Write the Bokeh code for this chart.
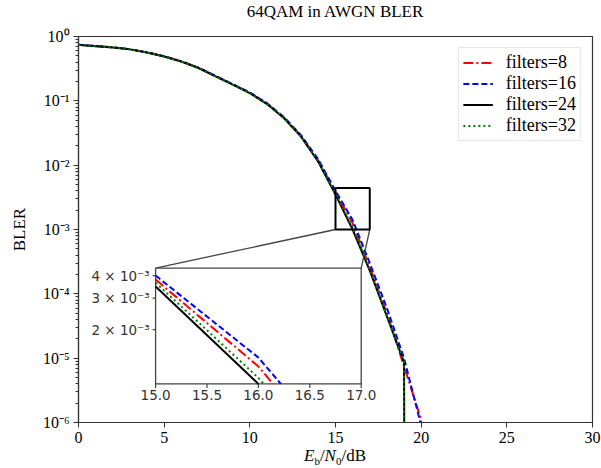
import math
from bokeh.plotting import figure
from bokeh.layouts import column
from bokeh.models import Range1d, LogScale, FixedTicker, CustomJSTickFormatter, Div
from bokeh.core.properties import value
from bokeh.embed import file_html
from bokeh.resources import INLINE

# ---------------- data ----------------
snr_db = [0, 1, 2, 3, 4, 5, 6, 7, 8, 9, 10, 11, 12, 13, 14, 15, 16, 17, 18, 19, 20, 21]
bler_filters8 = [0.745, 0.712, 0.680, 0.635, 0.566, 0.494, 0.411, 0.328, 0.243, 0.181, 0.134,
                 0.0905, 0.0545, 0.0282, 0.0118, 3.8e-3, 1.25e-3, 2.6e-4, 5.0e-5, 7.5e-6, 1.1e-6, 0.0]
bler_filters16 = [0.745, 0.712, 0.680, 0.635, 0.566, 0.494, 0.411, 0.328, 0.244, 0.182, 0.135,
                  0.092, 0.0556, 0.029, 0.0122, 4.0e-3, 1.4e-3, 3.0e-4, 6.0e-5, 1.0e-5, 9.0e-7, 0.0]
bler_filters24 = [0.741, 0.708, 0.676, 0.631, 0.562, 0.490, 0.407, 0.324, 0.240, 0.178, 0.132,
                  0.0891, 0.0537, 0.0275, 0.0112, 3.48e-3, 1.0e-3, 2.29e-4, 4.47e-5, 8.7e-6, 0.0, 0.0]
bler_filters32 = [0.741, 0.708, 0.676, 0.631, 0.562, 0.490, 0.407, 0.324, 0.240, 0.178, 0.132,
                  0.0894, 0.054, 0.0278, 0.0115, 3.65e-3, 1.08e-3, 2.4e-4, 4.6e-5, 8.7e-6, 0.0, 0.0]
series_labels = ["filters=8", "filters=16", "filters=24", "filters=32"]

x_ticks = [0, 5, 10, 15, 20, 25, 30]
y_ticks = [1e-6, 1e-5, 1e-4, 1e-3, 1e-2, 1e-1, 1.0]
y_tick_labels = ["10⁻⁶", "10⁻⁵", "10⁻⁴", "10⁻³", "10⁻²", "10⁻¹", "10⁰"]

zoom_x = [15.0, 17.0]
zoom_y = [1e-3, 4.4e-3]
inset_x_ticks = [15.0, 15.5, 16.0, 16.5, 17.0]
inset_x_tick_labels = ["15.0", "15.5", "16.0", "16.5", "17.0"]
inset_y_ticks = [4e-3, 3e-3, 2e-3]
inset_y_tick_labels = ["4 × 10⁻³", "3 × 10⁻³", "2 × 10⁻³"]

title_text = "64QAM in AWGN BLER"

# ---------------- layout constants ----------------
X_MIN, X_MAX = 0, 30
Y_MIN, Y_MAX = 1e-6, 1.0
INSET = (0.15, 0.10, 0.40, 0.30)  # left, bottom, width, height in axes fraction
FLOOR = 1e-100                    # how zero BLER is shown on the log axis
SERIF = "Liberation Serif"
SANS = "DejaVu Sans"
W, H = 601, 468
BL, BR, BT, BB = 78, 9, 36, 46
TITLE_H, XLABEL_H = 24, 22

p = figure(width=W, height=H, x_range=Range1d(X_MIN, X_MAX), y_range=Range1d(Y_MIN, Y_MAX),
           y_axis_type="log", output_backend="svg", toolbar_location=None,
           min_border_left=BL, min_border_right=BR, min_border_top=BT, min_border_bottom=BB)

p.background_fill_color = "white"
p.border_fill_color = "white"
p.outline_line_color = "#333333"
p.outline_line_width = 1.2
p.xgrid.grid_line_color = None
p.ygrid.grid_line_color = None

# axes
p.xaxis.ticker = FixedTicker(ticks=x_ticks, minor_ticks=[])
p.yaxis.ticker = FixedTicker(ticks=y_ticks,
                             minor_ticks=[m * 10.0 ** e for e in range(-6, 0) for m in range(2, 10)])
p.yaxis.formatter = CustomJSTickFormatter(args=dict(tvals=y_ticks, tlabels=y_tick_labels), code="""
    const i = tvals.findIndex(t => Math.abs(Math.log10(t) - Math.log10(tick)) < 1e-6);
    return i >= 0 ? tlabels[i] : "";
""")
for ax in (p.xaxis, p.yaxis):
    ax.axis_line_color = "#333333"
    ax.axis_line_width = 1.2
    ax.major_tick_line_color = "#333333"
    ax.minor_tick_line_color = "#333333"
    ax.major_tick_in = 0
    ax.major_tick_out = 5
    ax.minor_tick_in = 0
    ax.minor_tick_out = 3
    ax.major_label_text_font = SERIF
    ax.major_label_text_font_size = "16px"
    ax.major_label_text_color = "black"
    ax.major_label_standoff = 4
p.yaxis.axis_label = "BLER"
p.yaxis.axis_label_text_font = SERIF
p.yaxis.axis_label_text_font_size = "17px"
p.yaxis.axis_label_text_font_style = "normal"
p.yaxis.axis_label_text_color = "black"
p.yaxis.axis_label_standoff = 11

# inset ranges mapped onto the same frame
ix_full = (zoom_x[1] - zoom_x[0]) / INSET[2]
ix_start = zoom_x[0] - INSET[0] * ix_full
ly0, ly1 = math.log10(zoom_y[0]), math.log10(zoom_y[1])
iy_full = (ly1 - ly0) / INSET[3]
iy_start = ly0 - INSET[1] * iy_full
p.extra_x_ranges = {"ix": Range1d(ix_start, ix_start + ix_full)}
p.extra_y_ranges = {"iy": Range1d(10 ** iy_start, 10 ** (iy_start + iy_full))}
p.extra_y_scales = {"iy": LogScale()}

styles = [
    (bler_filters8, "red", "10 3 2 3"),
    (bler_filters16, "blue", "6 3"),
    (bler_filters24, "black", "solid"),
    (bler_filters32, "#008000", "2 3"),
]


def plot_vals(ys):
    return [v if v > 0 else FLOOR for v in ys]


# main curves
for (ys, color, dash), lab in zip(styles, series_labels):
    p.line(snr_db, plot_vals(ys), line_color=color, line_width=2, line_dash=dash, legend_label=lab)

# connectors from the zoom rectangle to the inset
top_frac = INSET[1] + INSET[3]
conn_y = 10 ** (math.log10(Y_MIN) + top_frac * (math.log10(Y_MAX) - math.log10(Y_MIN)))
conn_x_left = X_MIN + INSET[0] * (X_MAX - X_MIN)
conn_x_right = X_MIN + (INSET[0] + INSET[2]) * (X_MAX - X_MIN)
p.segment(x0=[zoom_x[0], zoom_x[1]], y0=[zoom_y[0], zoom_y[0]],
          x1=[conn_x_left, conn_x_right], y1=[conn_y, conn_y],
          line_color="#444444", line_width=1.3)

# inset box
p.quad(left=[zoom_x[0]], right=[zoom_x[1]], bottom=[zoom_y[0]], top=[zoom_y[1]],
       x_range_name="ix", y_range_name="iy",
       fill_color="white", line_color="#444444", line_width=1.3)


def clip_to_box(xs, ys, x0, x1, y0, y1):
    lo, hi = math.log10(y0), math.log10(y1)
    out_x, out_l = [], []
    for i in range(len(xs) - 1):
        ax_, ay_ = xs[i], math.log10(max(ys[i], FLOOR))
        bx_, by_ = xs[i + 1], math.log10(max(ys[i + 1], FLOOR))
        dx, dy = bx_ - ax_, by_ - ay_
        t0, t1, ok = 0.0, 1.0, True
        for pp, qq in ((-dx, ax_ - x0), (dx, x1 - ax_), (-dy, ay_ - lo), (dy, hi - ay_)):
            if pp == 0:
                if qq < 0:
                    ok = False
                    break
            else:
                r = qq / pp
                if pp < 0:
                    t0 = max(t0, r)
                else:
                    t1 = min(t1, r)
        if not ok or t0 > t1:
            continue
        sx, sl = ax_ + t0 * dx, ay_ + t0 * dy
        ex, el = ax_ + t1 * dx, ay_ + t1 * dy
        if out_x and (abs(out_x[-1] - sx) > 1e-9 or abs(out_l[-1] - sl) > 1e-9):
            out_x.append(float("nan"))
            out_l.append(float("nan"))
            out_x.append(sx)
            out_l.append(sl)
        elif not out_x:
            out_x.append(sx)
            out_l.append(sl)
        out_x.append(ex)
        out_l.append(el)
    return out_x, [10 ** v if v == v else float("nan") for v in out_l]


for ys, color, dash in styles:
    cx, cy = clip_to_box(snr_db, ys, zoom_x[0], zoom_x[1], zoom_y[0], zoom_y[1])
    p.line(cx, cy, line_color=color, line_width=2, line_dash=dash,
           x_range_name="ix", y_range_name="iy")

# inset ticks and labels
p.ray(x=inset_x_ticks, y=[zoom_y[0]] * len(inset_x_ticks), length=4, length_units="screen",
      angle=-math.pi / 2, line_color="#444444", line_width=1.2, x_range_name="ix", y_range_name="iy")
p.ray(x=[zoom_x[0]] * len(inset_y_ticks), y=inset_y_ticks, length=3, length_units="screen",
      angle=math.pi, line_color="#444444", line_width=1.2, x_range_name="ix", y_range_name="iy")
p.text(x=inset_x_ticks, y=[zoom_y[0]] * len(inset_x_ticks), text=inset_x_tick_labels,
       text_align="center", text_baseline="top", y_offset=6,
       text_font=value(SANS), text_font_size="13.5px", text_color="#333333",
       x_range_name="ix", y_range_name="iy")
p.text(x=[zoom_x[0]] * len(inset_y_ticks), y=inset_y_ticks, text=inset_y_tick_labels,
       text_align="right", text_baseline="middle", x_offset=-6,
       text_font=value(SANS), text_font_size="13.5px", text_color="#333333",
       x_range_name="ix", y_range_name="iy")

# zoom rectangle on the main plot
p.quad(left=[zoom_x[0]], right=[zoom_x[1]], bottom=[zoom_y[0]], top=[zoom_y[1]],
       fill_color=None, line_color="black", line_width=2)

# legend
lg = p.legend[0]
lg.location = "top_right"
lg.label_text_font = SERIF
lg.label_text_font_size = "18px"
lg.label_text_color = "black"
lg.border_line_color = "#cccccc"
lg.border_line_width = 1
lg.background_fill_alpha = 0.85
lg.glyph_width = 30
lg.glyph_height = 21
lg.label_height = 21
lg.label_standoff = 13
lg.spacing = 0
lg.padding = 4
lg.margin = 11

frame_w = W - BL - BR

# title laid over the top border, centred on the frame
title = Div(
    text=title_text,
    width=frame_w, height=TITLE_H, margin=(-H, 0, 0, BL),
    styles={"font-family": SERIF, "font-size": "17px", "color": "black",
            "text-align": "center", "line-height": f"{TITLE_H}px"},
)

# x-axis title E_b/N_0/dB as rich HTML text laid over the bottom border
xlabel = Div(
    text="<i>E</i><sub style='font-size:11px'>b</sub>/<i>N</i><sub style='font-size:11px'>0</sub>/dB",
    width=frame_w, height=XLABEL_H, margin=(H - TITLE_H - XLABEL_H, 0, 0, BL),
    styles={"font-family": SERIF, "font-size": "17px", "color": "black",
            "text-align": "center", "line-height": "20px"},
)

layout = column(p, title, xlabel, spacing=0)
open("out.html", "w").write(file_html(layout, INLINE))
